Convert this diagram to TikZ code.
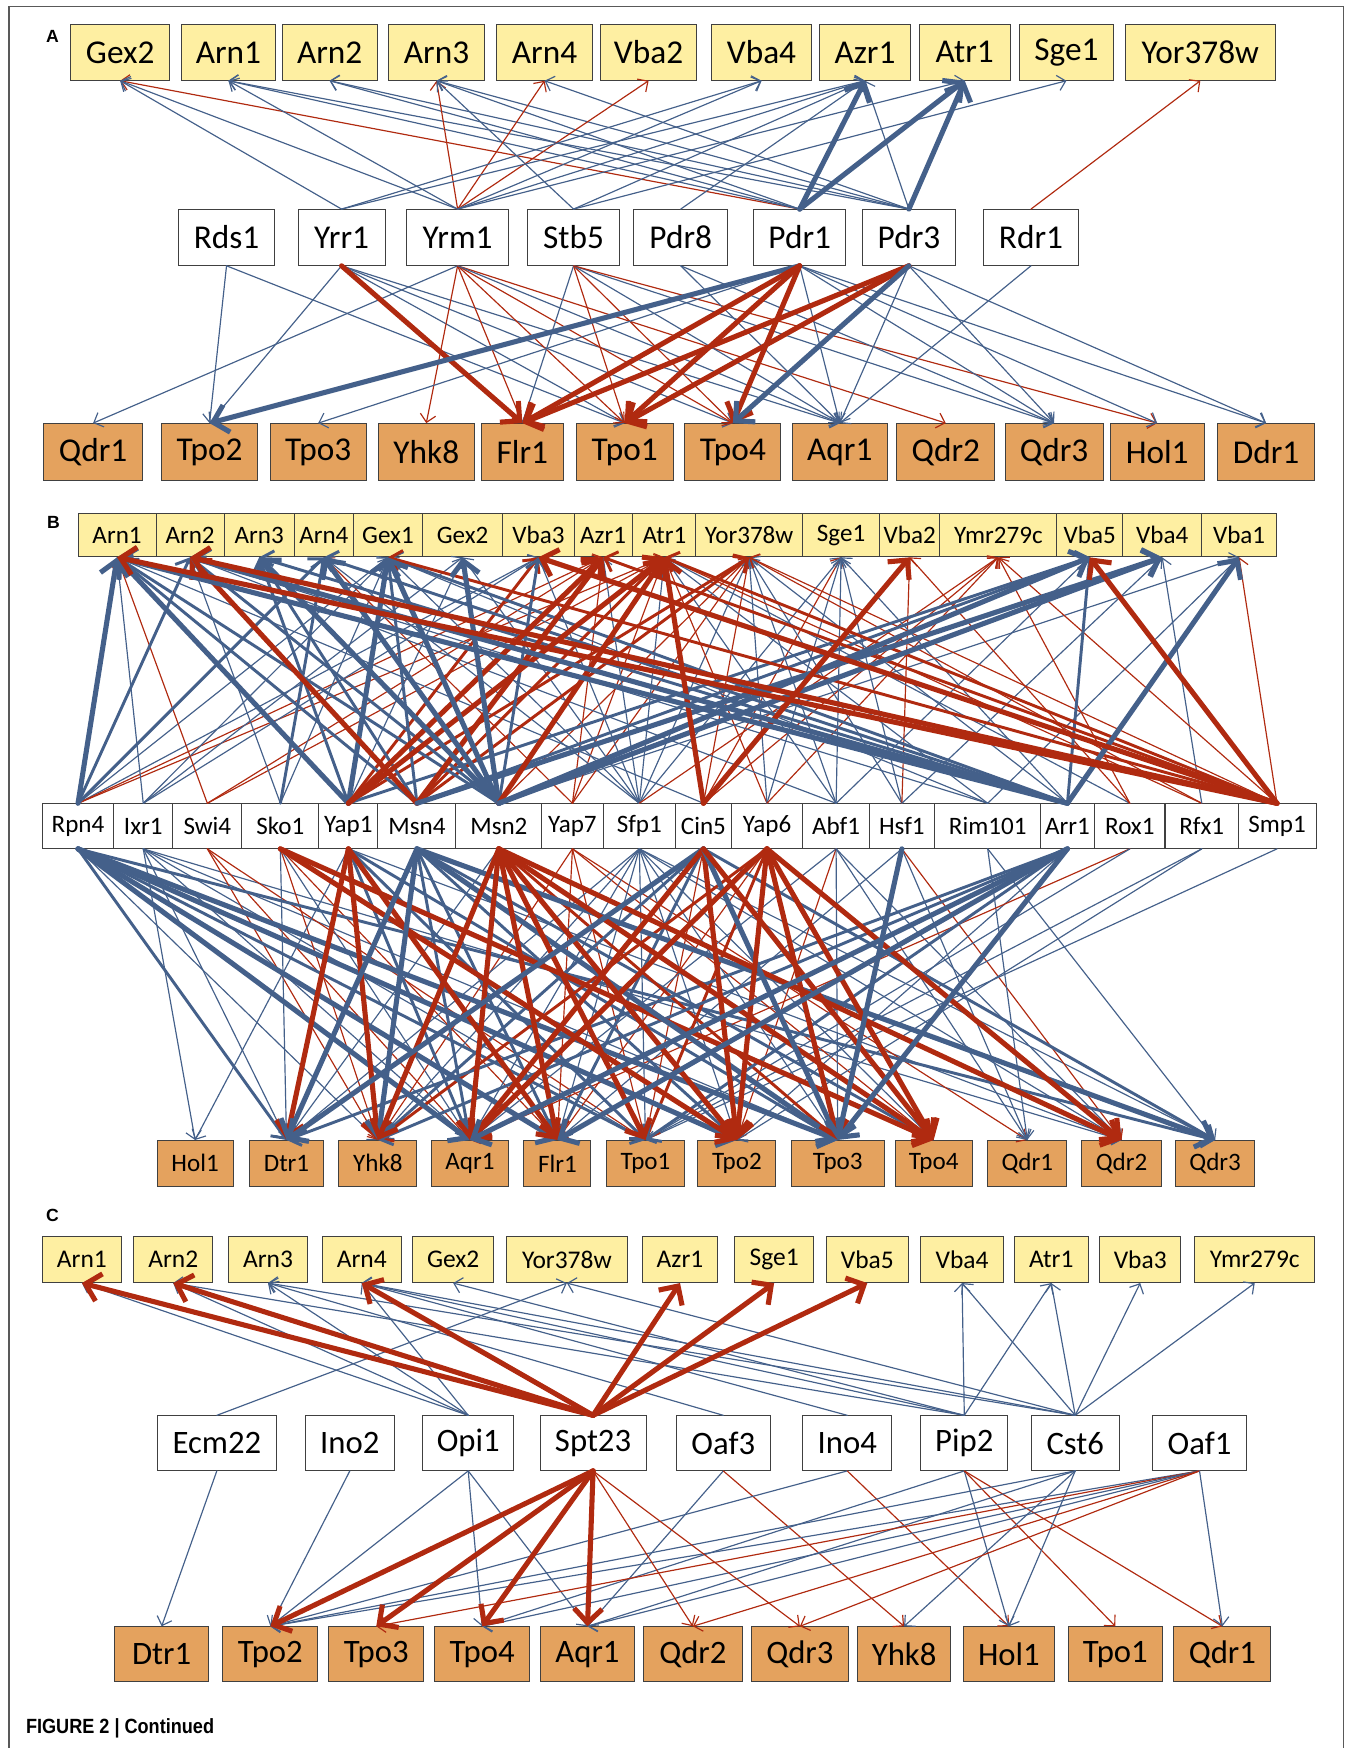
\documentclass[tikz,border=0pt]{standalone}
\usepackage{fontspec}
\setmainfont{Carlito}
\newfontfamily\labfont{Liberation Sans}
\newfontfamily\capfont[FakeStretch=0.88]{Liberation Sans}
\usetikzlibrary{arrows.meta}

\definecolor{lnblue}{RGB}{68,96,138}
\definecolor{lnred}{RGB}{176,42,16}
\definecolor{tgtfill}{RGB}{254,239,162}
\definecolor{trpfill}{RGB}{228,162,94}

\tikzset{
  gene/.style={draw=black!75,line width=0.5pt,inner sep=0pt},
  tgt/.style={gene,fill=tgtfill},
  trp/.style={gene,fill=trpfill},
  tfb/.style={gene,fill=white},
  fA/.style={font=\fontsize{17}{20}\selectfont},
  fB/.style={font=\fontsize{12.8}{15}\selectfont},
  fCt/.style={font=\fontsize{13}{15}\selectfont},
  fC/.style={font=\fontsize{16.7}{19}\selectfont},
  panlab/.style={font=\labfont\bfseries\fontsize{9}{10}\selectfont,inner sep=0pt},
  lnk/.style={-{Straight Barb[length=3pt 1.6,width=6pt 3.2]},line cap=round},
  b1/.style={lnk,lnblue,line width=0.6pt},
  b2/.style={lnk,lnblue,line width=1.5pt},
  b3/.style={lnk,lnblue,line width=2.6pt},
  r1/.style={lnk,lnred,line width=0.6pt},
  r2/.style={lnk,lnred,line width=1.5pt},
  r3/.style={lnk,lnred,line width=2.6pt},
}

\begin{document}
\begin{tikzpicture}[x=0.02cm,y=-0.02cm]
\useasboundingbox (0,0) rectangle (1222,1568);
\draw[black!65,line width=0.8pt] (8,1568) -- (8,6) -- (1205,6) -- (1205,1568);

% panel A
\node[panlab] (labA) at (47,33) {A};
\foreach \n/\x/\w in {Gex2/107.8/89,Arn1/204.9/85,Arn2/295.7/85,Arn3/391.6/86,
  Arn4/488.5/86,Vba2/581.8/86,Vba4/683.1/90,Azr1/775.9/82,Atr1/865.4/82,
  Sge1/956.6/85,Yor378w/1076.7/135}
  \node[tgt,fA,minimum width=\w*0.02cm,minimum height=1cm] (a\n) at (\x,47) {\n};
\foreach \n/\x/\w in {Rds1/203.2/86,Yrr1/306.4/78,Yrm1/410.5/92,Stb5/514.5/82,
  Pdr8/610.6/84,Pdr1/717.3/83,Pdr3/815.3/83,Rdr1/924.8/86}
  \node[tfb,fA,minimum width=\w*0.02cm,minimum height=1cm] (a\n) at (\x,213) {\n};
\foreach \n/\x/\w in {Qdr1/83.5/89,Tpo2/188/86,Tpo3/285.4/86,Yhk8/382.4/86,
  Flr1/468.6/74,Tpo1/560.4/87,Tpo4/657.4/86,Aqr1/753.3/85,Qdr2/848.4/88,
  Qdr3/945.5/88,Hol1/1038/84,Ddr1/1135.7/87}
  \node[trp,fA,minimum width=\w*0.02cm,minimum height=1.02cm] (a\n) at (\x,405.5) {\n};

\foreach \src/\dst/\sty in {Pdr1/Gex2/r1,Yrr1/Gex2/b1,Yrm1/Gex2/b1,
  Yrm1/Arn1/b1,Pdr1/Arn1/b1,Pdr3/Arn1/b1,Pdr1/Arn2/b1,Pdr3/Arn2/b1,
  Yrm1/Arn3/r1,Stb5/Arn3/b1,Pdr1/Arn3/b1,Pdr3/Arn3/b1,Yrm1/Arn4/r1,Pdr3/Arn4/b1,
  Yrm1/Vba2/r1,Yrr1/Vba4/b1,Yrm1/Vba4/b1,Yrr1/Azr1/b1,Yrm1/Azr1/b1,Stb5/Azr1/b1,
  Pdr8/Azr1/b1,Pdr3/Azr1/b1,Yrm1/Atr1/b1,Stb5/Sge1/b1,Rdr1/Yor378w/r1,
  Pdr1/Azr1/b3,Pdr1/Atr1/b3,Pdr3/Atr1/b3}
  \draw[\sty] (a\src.north) -- (a\dst.south);
\foreach \src/\dst/\sty in {Rds1/Tpo2/b1,Rds1/Tpo1/b1,
  Yrr1/Tpo2/b1,Yrr1/Tpo1/b1,Yrr1/Tpo4/b1,Yrr1/Aqr1/b1,
  Yrm1/Qdr1/b1,Yrm1/Yhk8/r1,Yrm1/Flr1/r1,Yrm1/Tpo1/r1,Yrm1/Tpo4/r1,Yrm1/Qdr2/r1,
  Yrm1/Aqr1/b1,Stb5/Flr1/b1,Stb5/Tpo1/r1,Stb5/Tpo4/r1,Stb5/Aqr1/b1,Stb5/Qdr3/b1,
  Stb5/Hol1/r1,Pdr8/Aqr1/b1,Pdr8/Qdr3/b1,Pdr1/Tpo3/b1,Pdr1/Aqr1/b1,Pdr1/Qdr3/b1,
  Pdr1/Hol1/b1,Pdr1/Ddr1/b1,Pdr3/Aqr1/b1,Pdr3/Qdr3/b1,Pdr3/Ddr1/b1,Rdr1/Aqr1/b1,
  Yrr1/Flr1/r3,Pdr1/Tpo2/b3,Pdr1/Flr1/r3,Pdr1/Tpo1/r3,Pdr1/Tpo4/r3,
  Pdr3/Flr1/r3,Pdr3/Tpo1/r3,Pdr3/Tpo4/b3}
  \draw[\sty] (a\src.south) -- (a\dst.north);

% panel B
\node[panlab] (labB) at (48,469) {B};
\foreach \n/\x/\w in {Arn1/105/70,Arn2/170.5/61,Arn3/232.5/63,Arn4/290.5/53,
  Gex1/348/62,Gex2/415/72,Vba3/483/64,Azr1/541/52,Atr1/596/58,Yor378w/672/96,
  Sge1/754.5/69,Vba2/816/54,Ymr279c/895.5/105,Vba5/977.5/59,Vba4/1042.5/71,
  Vba1/1111.5/67}
  \node[tgt,fB,minimum width=\w*0.02cm,minimum height=0.78cm] (b\n) at (\x,480) {\n};
\foreach \n/\x/\w in {Rpn4/70/64,Ixr1/128.5/53,Swi4/186/62,Sko1/251.5/69,
  Yap1/312.5/53,Msn4/374/70,Msn2/447.5/77,Yap7/513.5/55,Sfp1/573.5/65,
  Cin5/631/50,Yap6/688/64,Abf1/750/60,Hsf1/809/58,Rim101/886/95,Arr1/957.5/49,
  Rox1/1013.5/63,Rfx1/1078/65,Smp1/1145.5/70}
  \node[tfb,fB,minimum width=\w*0.02cm,minimum height=0.8cm] (b\n) at (\x,741) {\n};
\foreach \n/\x/\w in {Hol1/175/68,Dtr1/257/66,Yhk8/339/70,Aqr1/421.5/69,
  Flr1/500/60,Tpo1/579/70,Tpo2/661/70,Tpo3/751.5/83,Tpo4/837.5/69,Qdr1/921.5/71,
  Qdr2/1006/72,Qdr3/1090/71}
  \node[trp,fB,minimum width=\w*0.02cm,minimum height=0.82cm] (b\n) at (\x,1043.5) {\n};

\foreach \src/\dst/\sty in {Rpn4/Gex1/b1,Rpn4/Vba3/b1,Rpn4/Azr1/r1,Rpn4/Atr1/r1,
  Ixr1/Arn1/b1,Ixr1/Gex1/b1,Ixr1/Vba3/b1,Ixr1/Gex2/b1,
  Swi4/Azr1/r1,Swi4/Atr1/r1,Swi4/Arn1/r1,Sko1/Arn2/b1,Sko1/Gex1/b1,
  Yap1/Gex2/b1,Msn2/Yor378w/r1,Msn2/Vba1/b1,
  Yap7/Arn4/r1,Yap7/Azr1/r1,Yap7/Atr1/r1,Yap7/Yor378w/r1,
  Sfp1/Arn4/b1,Sfp1/Gex1/b1,Sfp1/Gex2/b1,Sfp1/Vba3/b1,Sfp1/Azr1/b1,Sfp1/Atr1/b1,
  Sfp1/Yor378w/b1,Sfp1/Sge1/b1,Sfp1/Ymr279c/r1,
  Cin5/Arn1/b1,Cin5/Yor378w/r1,Cin5/Sge1/r1,Cin5/Ymr279c/r1,
  Yap6/Atr1/r1,Yap6/Yor378w/b1,Yap6/Sge1/b1,Yap6/Ymr279c/r1,
  Abf1/Arn2/b1,Abf1/Atr1/b1,Abf1/Yor378w/b1,Abf1/Sge1/b1,Abf1/Vba5/b1,
  Hsf1/Yor378w/b1,Hsf1/Sge1/b1,Hsf1/Vba2/r1,Hsf1/Vba4/b1,
  Rim101/Arn2/b1,Rim101/Gex1/b1,Rim101/Atr1/b1,Rim101/Vba1/b1,
  Arr1/Yor378w/b1,Arr1/Sge1/b1,Rox1/Atr1/b1,Rox1/Vba2/r1,Rox1/Ymr279c/r1,
  Rfx1/Atr1/r1,Rfx1/Yor378w/r1,Rfx1/Vba4/b1,
  Smp1/Yor378w/r1,Smp1/Ymr279c/r1,Smp1/Vba1/r1,
  Rpn4/Arn2/b2,Rpn4/Arn4/b2,Sko1/Arn4/b2,Yap1/Arn3/b2,Yap1/Vba3/r2,Yap1/Yor378w/r2,
  Yap1/Vba5/b2,Msn4/Arn1/b2,Msn4/Arn3/b2,Msn4/Gex1/b2,Msn4/Atr1/r2,
  Msn4/Yor378w/r2,Msn4/Vba5/b2,Msn2/Arn1/b2,Msn2/Arn2/b2,Msn2/Vba3/b2,
  Arr1/Arn3/b2,Arr1/Arn4/b2,Arr1/Gex1/b2,Arr1/Vba5/b2,Smp1/Gex1/r2,Smp1/Azr1/r2,
  Smp1/Atr1/r2,
  Rpn4/Arn1/b3,Yap1/Arn1/b3,Yap1/Gex1/b3,Yap1/Azr1/r3,Yap1/Atr1/r3,Msn4/Arn2/r3,
  Msn4/Azr1/r3,Msn4/Vba4/b3,Msn2/Arn3/b3,Msn2/Arn4/b3,Msn2/Gex1/b3,Msn2/Gex2/b3,
  Msn2/Atr1/r3,Msn2/Vba5/b3,Msn2/Vba4/b3,Cin5/Atr1/r3,Cin5/Vba2/r3,
  Arr1/Arn1/b3,Arr1/Arn2/b3,Arr1/Vba1/b3,Smp1/Arn1/r3,Smp1/Arn2/r3,Smp1/Vba3/r3,
  Smp1/Vba5/r3}
  \draw[\sty] (b\src.north) -- (b\dst.south);
\foreach \src/\dst/\sty in {Rpn4/Yhk8/b1,
  Ixr1/Hol1/b1,Ixr1/Dtr1/b1,Ixr1/Aqr1/b1,Ixr1/Tpo1/b1,Ixr1/Tpo3/b1,Ixr1/Qdr2/b1,
  Swi4/Yhk8/r1,Swi4/Aqr1/r1,Swi4/Tpo1/r1,Sko1/Dtr1/b1,Sko1/Yhk8/r1,Sko1/Aqr1/b1,
  Sko1/Flr1/r1,Yap1/Hol1/b1,Yap1/Qdr2/b1,Msn2/Dtr1/b1,
  Yap7/Yhk8/r1,Yap7/Flr1/r1,Yap7/Tpo1/r1,Yap7/Tpo4/r1,Yap7/Qdr1/r1,
  Sfp1/Dtr1/b1,Sfp1/Yhk8/b1,Sfp1/Aqr1/b1,Sfp1/Flr1/b1,Sfp1/Tpo1/b1,Sfp1/Tpo2/b1,
  Sfp1/Tpo3/b1,Sfp1/Tpo4/b1,Sfp1/Qdr2/b1,Sfp1/Qdr3/b1,Cin5/Tpo1/r1,Yap6/Flr1/r1,
  Abf1/Aqr1/b1,Abf1/Tpo2/r1,Abf1/Tpo3/b1,Abf1/Qdr1/b1,Abf1/Qdr2/b1,
  Hsf1/Flr1/b1,Hsf1/Qdr1/b1,Hsf1/Qdr2/r1,Rim101/Qdr1/b1,Rim101/Qdr3/b1,
  Arr1/Tpo2/b1,Rox1/Aqr1/r1,Rox1/Tpo1/b1,Rfx1/Tpo1/b1,Rfx1/Tpo2/b1,Smp1/Tpo1/b1,
  Rpn4/Dtr1/b2,Rpn4/Tpo1/b2,Rpn4/Qdr3/b2,Yap1/Aqr1/b2,Yap1/Tpo1/b2,Yap1/Tpo3/b2,
  Msn4/Aqr1/b2,Msn4/Flr1/b2,Msn4/Tpo2/b2,Msn4/Tpo4/b2,Msn2/Tpo3/r2,
  Cin5/Yhk8/b2,Cin5/Flr1/b2,Cin5/Qdr3/b2,Yap6/Yhk8/r2,Yap6/Tpo1/r2,
  Arr1/Dtr1/b2,Arr1/Yhk8/b2,Arr1/Tpo1/b2,
  Rpn4/Aqr1/b3,Rpn4/Flr1/b3,Rpn4/Tpo2/b3,Rpn4/Tpo3/b3,Sko1/Tpo2/r3,Sko1/Tpo4/r3,
  Yap1/Dtr1/r3,Yap1/Yhk8/r3,Yap1/Flr1/r3,Msn4/Dtr1/b3,Msn4/Yhk8/b3,Msn4/Tpo3/b3,
  Msn4/Qdr3/b3,Msn2/Yhk8/r3,Msn2/Aqr1/r3,Msn2/Flr1/r3,Msn2/Tpo1/r3,Msn2/Tpo2/r3,
  Msn2/Tpo4/r3,Msn2/Qdr2/r3,Cin5/Dtr1/b3,Cin5/Aqr1/r3,Cin5/Tpo2/r3,Cin5/Tpo3/b3,
  Cin5/Tpo4/r3,Yap6/Aqr1/r3,Yap6/Tpo2/r3,Yap6/Tpo3/r3,Yap6/Tpo4/r3,Yap6/Qdr2/r3,
  Hsf1/Tpo3/b3,Arr1/Aqr1/b3,Arr1/Flr1/b3,Arr1/Tpo3/b3}
  \draw[\sty] (b\src.south) -- (b\dst.north);

% panel C
\node[panlab] (labC) at (47,1090) {C};
\foreach \n/\x/\w in {Arn1/73.5/71,Arn2/155.4/71,Arn3/240.4/71,Arn4/324.5/71,
  Gex2/406.5/73,Yor378w/508.5/109,Azr1/610/68,Sge1/694.4/71,Vba5/778/74,
  Vba4/863/74,Atr1/943/66,Vba3/1022.8/73,Ymr279c/1125.5/108}
  \node[tgt,fCt,minimum width=\w*0.02cm,minimum height=0.82cm] (c\n) at (\x,1130) {\n};
\foreach \n/\x/\w in {Ecm22/194.5/107,Ino2/313.8/80,Opi1/420/82,Spt23/532/95,
  Oaf3/648.8/84,Ino4/760/80,Pip2/865/78,Cst6/964.5/79,Oaf1/1076/84}
  \node[tfb,fC,minimum width=\w*0.02cm,minimum height=0.98cm] (c\n) at (\x,1294.5) {\n};
\foreach \n/\x/\w in {Dtr1/145/84,Tpo2/242.5/85,Tpo3/337.5/85,Tpo4/432.5/85,
  Aqr1/527/84,Qdr2/621.5/89,Qdr3/717.5/87,Yhk8/811/84,Hol1/905/82,Tpo1/1000.5/85,
  Qdr1/1096.5/87}
  \node[trp,fC,minimum width=\w*0.02cm,minimum height=0.99cm] (c\n) at (\x,1484) {\n};

\foreach \src/\dst/\sty in {Opi1/Arn1/b1,Opi1/Arn2/b1,Opi1/Arn3/b1,Opi1/Arn4/b1,
  Ecm22/Yor378w/b1,Oaf3/Arn3/b1,Ino4/Arn4/b1,Pip2/Arn2/b1,Pip2/Arn4/b1,
  Pip2/Gex2/b1,Pip2/Vba4/b1,Pip2/Atr1/b1,Cst6/Arn3/b1,Cst6/Arn4/b1,
  Cst6/Yor378w/b1,Cst6/Vba4/b1,Cst6/Atr1/b1,Cst6/Vba3/b1,Cst6/Ymr279c/b1,
  Spt23/Arn1/r3,Spt23/Arn2/r3,Spt23/Arn4/r3,Spt23/Azr1/r3,Spt23/Sge1/r3,
  Spt23/Vba5/r3}
  \draw[\sty] (c\src.north) -- (c\dst.south);
\foreach \src/\dst/\sty in {Ecm22/Dtr1/b1,Ino2/Tpo2/b1,Opi1/Tpo2/b1,Opi1/Tpo4/b1,
  Opi1/Aqr1/b1,Oaf3/Aqr1/b1,Oaf3/Yhk8/r1,Ino4/Tpo2/b1,Ino4/Hol1/r1,Pip2/Tpo4/b1,
  Pip2/Hol1/b1,Pip2/Tpo1/r1,Pip2/Qdr1/r1,Cst6/Tpo2/b1,Cst6/Aqr1/b1,Cst6/Yhk8/b1,
  Cst6/Hol1/b1,Oaf1/Tpo2/b1,Oaf1/Tpo3/r1,Oaf1/Tpo4/b1,Oaf1/Aqr1/b1,Oaf1/Qdr2/r1,
  Oaf1/Qdr3/r1,Oaf1/Qdr1/b1,Spt23/Qdr2/r1,Spt23/Qdr3/r1,
  Spt23/Tpo2/r3,Spt23/Tpo3/r3,Spt23/Tpo4/r3,Spt23/Aqr1/r3}
  \draw[\sty] (c\src.south) -- (c\dst.north);

\node[anchor=west,inner sep=0pt,font=\capfont\bfseries\fontsize{10.5}{12}\selectfont]
  (caption) at (23,1550) {FIGURE 2 | Continued};
\end{tikzpicture}
\end{document}
